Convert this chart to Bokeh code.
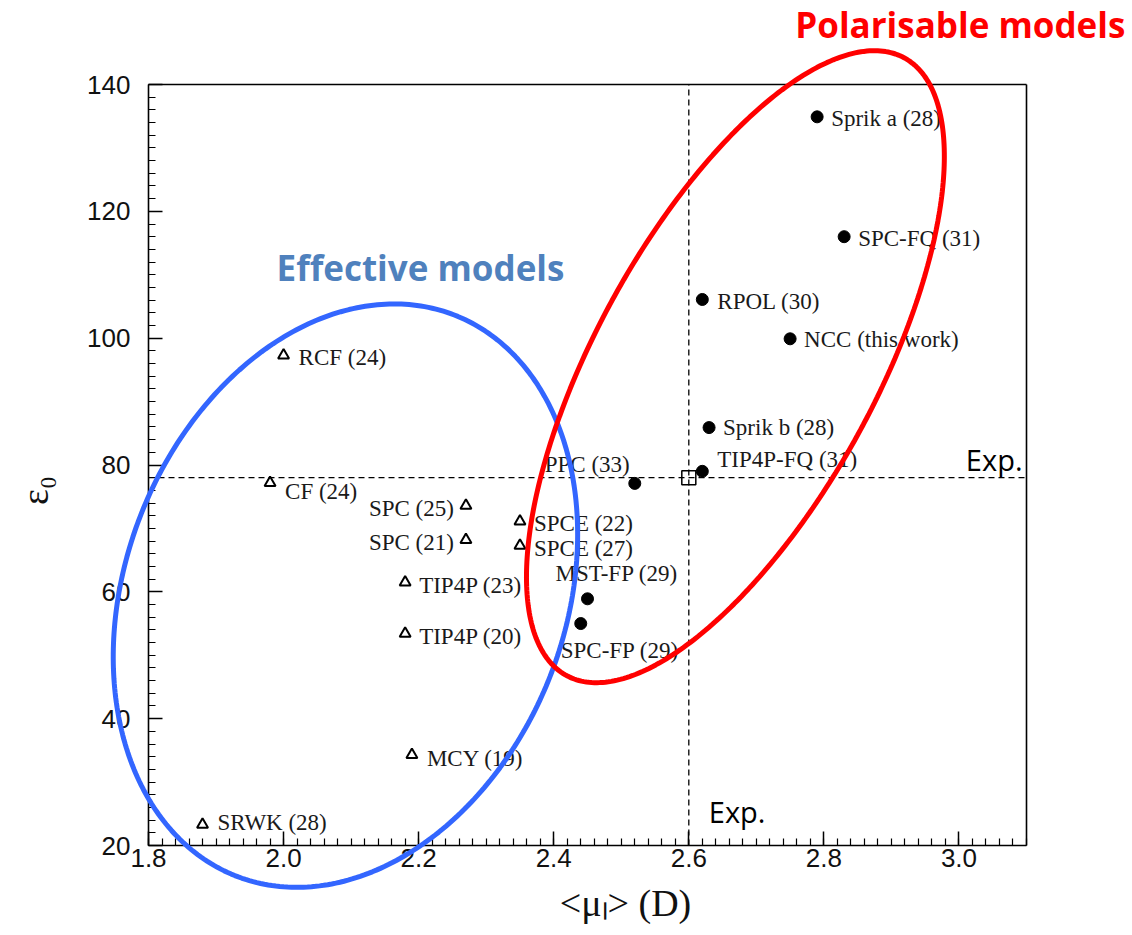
import numpy as np
from bokeh.plotting import figure
from bokeh.models import (ColumnDataSource, Label, PolyAnnotation, Range1d,
                          FixedTicker, PrintfTickFormatter, LinearAxis)
from bokeh.core.properties import value
from bokeh.embed import file_html
from bokeh.resources import INLINE

# ---------------- data ----------------
# effective (non-polarisable) models : open triangles
eff_names = ["RCF (24)", "CF (24)", "SPC (25)", "SPC (21)", "TIP4P (23)",
             "TIP4P (20)", "MCY (19)", "SRWK (28)", "SPCE (22)", "SPCE (27)"]
eff_mu = [2.00, 1.98, 2.27, 2.27, 2.18, 2.18, 2.19, 1.88, 2.35, 2.35]
eff_eps = [97.3, 77.2, 73.6, 68.2, 61.5, 53.4, 34.3, 23.3, 71.1, 67.3]

# polarisable models : filled circles
pol_names = ["PPC (33)", "MST-FP (29)", "SPC-FP (29)", "Sprik a (28)", "SPC-FQ (31)",
             "RPOL (30)", "NCC (this work)", "Sprik b (28)", "TIP4P-FQ (31)"]
pol_mu = [2.52, 2.45, 2.44, 2.79, 2.83, 2.62, 2.75, 2.63, 2.62]
pol_eps = [77.1, 58.9, 55.0, 134.9, 116.0, 106.1, 99.9, 85.9, 79.0]

# experiment
exp_mu = [2.6]
exp_eps = [78.0]

# axes
X0, X1, Y0, Y1 = 1.8, 3.1, 20, 140
x_ticks = [1.8, 2.0, 2.2, 2.4, 2.6, 2.8, 3.0]
y_ticks = [20, 40, 60, 80, 100, 120, 140]

# ---------------- label placement (screen px) ----------------
eff_dx = [15, 15, -12, -12, 14, 14, 15, 15, 14, 14]
eff_dy = [2, 9, 3, 3, 3, 3, 4, -2, 2, 3]
eff_align = ["left", "left", "right", "right", "left", "left", "left", "left", "left", "left"]

pol_dx = [-5, -32, -20, 14, 14, 15, 14, 14, 15]
pol_dy = [-19, -25, 27, 2, 2, 2, 1, 0, -12]
pol_align = ["right", "left", "left", "left", "left", "left", "left", "left", "left"]

# ---------------- page geometry (px) ----------------
W, H = 1132, 935
BOX_L, BOX_R, BOX_T, BOX_B = 148, 1026, 84, 845
ppx = (BOX_R - BOX_L) / (X1 - X0)
ppy = (BOX_B - BOX_T) / (Y1 - Y0)
xr = Range1d(X0 - BOX_L / ppx, X1 + (W - BOX_R) / ppx)
yr = Range1d(Y0 - (H - BOX_B) / ppy, Y1 + BOX_T / ppy)

# where the axis titles are centred (data units)
XLAB_C = 2.506
YLAB_C = 76.0

p = figure(width=W, height=H, min_border=0, x_range=xr, y_range=yr,
           output_backend="svg", toolbar_location=None,
           background_fill_color="white", border_fill_color="white")
p.title.visible = False
p.grid.visible = False
p.outline_line_color = None

xa, ya = p.xaxis[0], p.yaxis[0]
xa.fixed_location = Y0
ya.fixed_location = X0
xa.bounds = (X0, 2 * XLAB_C - X0)
ya.bounds = (2 * YLAB_C - Y1, Y1)
xa.ticker = FixedTicker(ticks=x_ticks,
                        minor_ticks=list(np.round(np.arange(X0, X1 + 1e-9, 0.02), 2)))
ya.ticker = FixedTicker(ticks=y_ticks, minor_ticks=list(range(Y0, Y1 + 1, 2)))
xa.formatter = PrintfTickFormatter(format="%.1f")

for ax in (xa, ya):
    ax.axis_line_color = None
    ax.major_tick_line_width = 1.5
    ax.minor_tick_line_width = 1.2
    ax.major_tick_in = 14
    ax.major_tick_out = 0
    ax.minor_tick_in = 7
    ax.minor_tick_out = 0
    ax.major_label_text_font = "Liberation Sans"
    ax.major_label_text_font_size = "26px"
    ax.major_label_text_color = "#111111"
    ax.axis_label_text_font = "Liberation Serif"
    ax.axis_label_text_font_style = "normal"
    ax.axis_label_text_color = "#111111"

xa.major_label_standoff = 3
ya.major_label_standoff = 18
xa.axis_label = "<μₗ> (D)"
ya.axis_label = "ε₀"
xa.axis_label_text_font_size = "38px"
ya.axis_label_text_font_size = "38px"
xa.axis_label_standoff = 12
ya.axis_label_standoff = 28

# the four edges of the plot box
def edge(loc, lo, hi):
    return LinearAxis(fixed_location=loc, bounds=(lo, hi), ticker=FixedTicker(ticks=[]),
                      axis_line_width=1.6, axis_line_color="black",
                      major_tick_in=0, major_tick_out=0, minor_tick_in=0, minor_tick_out=0)

p.add_layout(edge(Y0, X0, X1), "below")
p.add_layout(edge(Y1, X0, X1), "above")
p.add_layout(edge(X0, Y0, Y1), "left")
p.add_layout(edge(X1, Y0, Y1), "right")

# experimental reference lines
dash = "6 4"
p.line([X0, X1], [exp_eps[0], exp_eps[0]], line_color="black", line_dash=dash, line_width=1.3)
p.line([exp_mu[0], exp_mu[0]], [Y0, Y1], line_color="black", line_dash=dash, line_width=1.3)

eff_src = ColumnDataSource(dict(x=eff_mu, y=eff_eps, name=eff_names,
                                dx=eff_dx, dy=eff_dy, align=eff_align))
pol_src = ColumnDataSource(dict(x=pol_mu, y=pol_eps, name=pol_names,
                                dx=pol_dx, dy=pol_dy, align=pol_align))

p.scatter("x", "y", source=eff_src, marker="triangle", size=11,
          fill_color="white", line_color="black", line_width=2)
p.scatter("x", "y", source=pol_src, marker="circle", size=12,
          fill_color="black", line_color="black")
p.scatter(exp_mu, exp_eps, marker="square", size=14, fill_alpha=0,
          line_color="black", line_width=1.5)

for src in (eff_src, pol_src):
    p.text("x", "y", text="name", source=src, x_offset="dx", y_offset="dy",
           text_align="align", text_baseline="middle",
           text_font=value("Liberation Serif"), text_font_size="23px",
           text_color="#1a1a1a")

# ---------------- ellipses (centre in data, semi-axes in px, tilt in deg) ----------------
def ellipse(cx, cy, a, b, deg, n=360):
    t = np.linspace(0, 2 * np.pi, n)
    phi = np.radians(deg)
    dx = a * np.cos(t) * np.cos(phi) - b * np.sin(t) * np.sin(phi)
    dy = a * np.cos(t) * np.sin(phi) + b * np.sin(t) * np.cos(phi)
    return list(cx + dx / ppx), list(cy + dy / ppy)

bx, by = ellipse(2.0916, 59.4, 301, 220, 68.8)
rx, ry = ellipse(2.669, 95.5, 352, 140, 61.3)
p.add_layout(PolyAnnotation(xs=bx, ys=by, fill_alpha=0, line_color="#3366FF",
                            line_alpha=1, line_width=5))
p.add_layout(PolyAnnotation(xs=rx, ys=ry, fill_alpha=0, line_color="#FF0000",
                            line_alpha=1, line_width=5))

# ---------------- annotations ----------------
p.add_layout(Label(x=2.2027, y=111.2, text="Effective models", text_align="center",
                   text_baseline="alphabetic",
                   text_font="Open Sans", text_font_style="bold", text_font_size="35px",
                   text_color="#4F81BD"))
p.add_layout(Label(x=3.002, y=149.5, text="Polarisable models", text_align="center",
                   text_baseline="alphabetic",
                   text_font="Open Sans", text_font_style="bold", text_font_size="35px",
                   text_color="#FF0000"))
p.add_layout(Label(x=X1, y=exp_eps[0], x_offset=-4, y_offset=18, text="Exp.",
                   text_align="right", text_baseline="alphabetic",
                   text_font="Open Sans", text_font_size="29px", text_color="black"))
p.add_layout(Label(x=exp_mu[0], y=Y0, x_offset=20, y_offset=34, text="Exp.",
                   text_align="left", text_baseline="alphabetic",
                   text_font="Open Sans", text_font_size="29px", text_color="black"))

open("out.html", "w").write(file_html(p, INLINE))
